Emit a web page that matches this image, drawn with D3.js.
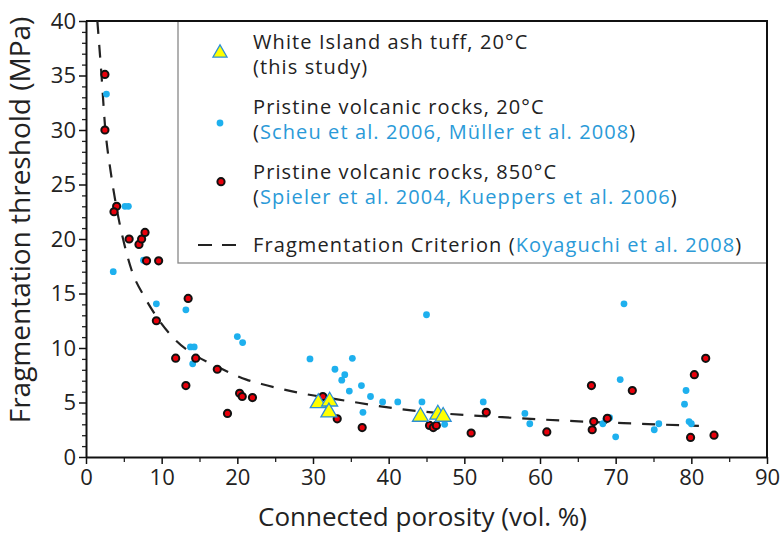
<!DOCTYPE html>
<html>
<head>
<meta charset="utf-8">
<script src="https://cdn.jsdelivr.net/npm/d3@7"></script>
<style>
  body { margin: 0; background: #fff; }
  svg text { font-family: "Open Sans", sans-serif; }
</style>
</head>
<body>
<div id="chart"></div>
<script>
// White Island ash tuff, 20°C (this study)
var tuff = [[30.7, 4.95], [32.2, 5.1], [32.1, 4.1], [44.2, 3.7], [46.5, 3.9], [47.2, 3.7]];

// Pristine volcanic rocks, 20°C
var cold = [
  [2.7, 33.3], [5.15, 23.0], [5.6, 23.0], [3.6, 17.0], [7.6, 18.05], [9.3, 14.05],
  [13.2, 13.5], [13.8, 10.1], [14.3, 10.1], [14.1, 8.55], [20.0, 11.05], [20.7, 10.5],
  [29.6, 9.0], [32.9, 8.05], [34.2, 7.55], [33.8, 7.05], [35.2, 9.05], [34.8, 6.05],
  [36.4, 6.55], [37.6, 5.55], [36.6, 4.1], [39.2, 5.05], [41.2, 5.05], [44.4, 5.05],
  [45.0, 13.05], [47.4, 3.0], [52.5, 5.05], [58.0, 4.0], [58.65, 3.05], [71.1, 14.05],
  [70.6, 7.1], [68.3, 3.05], [68.7, 3.45], [69.2, 3.6], [70.0, 1.85], [75.1, 2.5],
  [75.7, 3.05], [79.3, 6.1], [79.1, 4.85], [79.7, 3.25], [80.0, 3.05]
];

// Pristine volcanic rocks, 850°C
var hot = [
  [2.5, 35.1], [2.5, 30.0], [4.05, 23.0], [3.7, 22.5], [5.7, 20.0], [7.0, 19.5],
  [7.35, 20.0], [7.8, 20.6], [8.0, 18.0], [9.6, 18.0], [9.3, 12.5], [13.5, 14.55],
  [11.85, 9.07], [14.5, 9.07], [13.2, 6.55], [17.35, 8.05], [20.3, 5.85], [20.65, 5.55],
  [22.0, 5.45], [18.7, 4.0], [31.3, 5.55], [33.2, 3.5], [36.5, 2.7], [45.4, 2.9],
  [45.9, 2.7], [46.3, 2.9], [50.9, 2.2], [52.9, 4.1], [60.9, 2.3], [66.8, 6.55],
  [67.1, 3.25], [66.9, 2.5], [68.9, 3.55], [72.2, 6.1], [79.9, 1.8], [80.4, 7.55],
  [81.9, 9.05], [83.0, 2.0]
];

// Fragmentation criterion (Koyaguchi et al. 2008)
var criterion = [
  [1.5, 40], [2.05, 35], [2.5, 30.5], [3.3, 26], [4.0, 23], [4.9, 20], [6.0, 17.2],
  [7.8, 14.6], [9.3, 12.9], [11.8, 10.75], [14.5, 9.3], [17.3, 8.3], [21.2, 7.1],
  [23.2, 6.7], [27.4, 6.0], [34.9, 5.1], [41.5, 4.4], [48.1, 3.95], [55.0, 3.65],
  [65.7, 3.25], [73.2, 3.05], [81.0, 2.85]
];

var xTicks = [0, 10, 20, 30, 40, 50, 60, 70, 80, 90];
var yTicks = [0, 5, 10, 15, 20, 25, 30, 35, 40];

// each legend entry: lines of [text, isReference] pieces
var legendItems = [
  { kind: "tri", lines: [[["White Island ash tuff, 20°C", 0]], [["(this study)", 0]]] },
  { kind: "blue", lines: [[["Pristine volcanic rocks, 20°C", 0]], [["(", 0], ["Scheu et al. 2006, Müller et al. 2008", 1], [")", 0]]] },
  { kind: "red", lines: [[["Pristine volcanic rocks, 850°C", 0]], [["(", 0], ["Spieler et al. 2004, Kueppers et al. 2006", 1], [")", 0]]] },
  { kind: "dash", lines: [[["Fragmentation Criterion (", 0], ["Koyaguchi et al. 2008", 1], [")", 0]]] }
];

var W = 783, H = 533;
var margin = {top: 21, right: 16, bottom: 76, left: 86};
var width = W - margin.left - margin.right,
    height = H - margin.top - margin.bottom;

var svg = d3.select("#chart").append("svg")
  .attr("width", W)
  .attr("height", H);

var g = svg.append("g")
  .attr("transform", "translate(" + margin.left + "," + margin.top + ")");

var x = d3.scaleLinear().domain([0, 90]).range([0, width]);
var y = d3.scaleLinear().domain([0, 40]).range([height, 0]);

var textColor = "#222";
var linkColor = "#2a9ad8";

// legend box (sits in the top right corner of the frame)
var lg = g.append("g");
lg.append("rect")
  .attr("x", 92).attr("y", 0)
  .attr("width", width - 92).attr("height", 242)
  .attr("fill", "#fff")
  .attr("stroke", "#888")
  .attr("stroke-width", 1.3);

var rowY = [21, 86, 151, 224];
var lineStep = 25;
var markY = [32, 102, 160.7, 224];
legendItems.forEach(function(item, i) {
  item.lines.forEach(function(parts, j) {
    var t = lg.append("text")
      .attr("x", 167)
      .attr("y", rowY[i] + j * lineStep)
      .attr("dy", "0.36em")
      .style("font-size", "20px")
      .style("letter-spacing", "1.1px")
      .attr("fill", textColor);
    parts.forEach(function(p) {
      t.append("tspan").text(p[0]).attr("fill", p[1] ? linkColor : textColor);
    });
  });
  var mx = 134, my = markY[i];
  if (item.kind == "tri") {
    lg.append("path")
      .attr("transform", "translate(" + mx + "," + my + ")")
      .attr("d", d3.symbol().type(d3.symbolTriangle).size(85)())
      .attr("fill", "#ffff00").attr("stroke", "#2c8fd6").attr("stroke-width", 1.3);
  } else if (item.kind == "blue") {
    lg.append("circle").attr("cx", mx).attr("cy", my).attr("r", 3.4).attr("fill", "#1eb0ee");
  } else if (item.kind == "red") {
    lg.append("circle").attr("cx", mx + 1).attr("cy", my).attr("r", 3.6)
      .attr("fill", "#e8000b").attr("stroke", "#111").attr("stroke-width", 2);
  } else {
    lg.append("line").attr("x1", 112).attr("x2", 152).attr("y1", my).attr("y2", my)
      .attr("stroke", "#222").attr("stroke-width", 2.2).attr("stroke-dasharray", "14,10");
  }
});

// axes
var xMinor = d3.range(5, 90, 10);
var yMinor = d3.range(0, 41, 1).filter(function(v) { return v % 5 != 0; });

g.append("g")
  .attr("transform", "translate(0," + height + ")")
  .call(d3.axisBottom(x).tickValues(xMinor).tickSize(5).tickFormat(""))
  .call(function(a) { a.select(".domain").remove(); })
  .selectAll("line").attr("stroke", "#222").attr("stroke-width", 1.3);

g.append("g")
  .call(d3.axisLeft(y).tickValues(yMinor).tickSize(4).tickFormat(""))
  .call(function(a) { a.select(".domain").remove(); })
  .selectAll("line").attr("stroke", "#222").attr("stroke-width", 1.3);

var xAxis = g.append("g")
  .attr("transform", "translate(0," + height + ")")
  .call(d3.axisBottom(x).tickValues(xTicks).tickSize(7).tickPadding(5).tickSizeOuter(0));
xAxis.select(".domain").attr("stroke", "#111").attr("stroke-width", 2);
xAxis.selectAll(".tick line").attr("stroke", "#111").attr("stroke-width", 1.5);
xAxis.selectAll("text").style("font-size", "22px").attr("fill", textColor);

var yAxis = g.append("g")
  .call(d3.axisLeft(y).tickValues(yTicks).tickSize(7).tickPadding(3).tickSizeOuter(0));
yAxis.select(".domain").attr("stroke", "#111").attr("stroke-width", 2);
yAxis.selectAll(".tick line").attr("stroke", "#111").attr("stroke-width", 1.5);
yAxis.selectAll("text").style("font-size", "22px").attr("fill", textColor);

// top and right frame
g.append("path")
  .attr("d", "M0,0H" + width + "V" + height)
  .attr("fill", "none").attr("stroke", "#111").attr("stroke-width", 2);

// axis titles
g.append("text")
  .attr("x", width / 2 - 4).attr("y", height + 69)
  .attr("text-anchor", "middle")
  .style("font-size", "26px")
  .attr("fill", textColor)
  .text("Connected porosity (vol. %)");

g.append("text")
  .attr("transform", "translate(" + (-56) + "," + (height / 2 - 19) + ") rotate(-90)")
  .attr("text-anchor", "middle")
  .style("font-size", "28px")
  .attr("fill", textColor)
  .text("Fragmentation threshold (MPa)");

// data
var clip = svg.append("clipPath").attr("id", "clip")
  .append("rect").attr("width", width).attr("height", height);

g.append("path")
  .datum(criterion)
  .attr("clip-path", "url(#clip)")
  .attr("fill", "none")
  .attr("stroke", "#222")
  .attr("stroke-width", 2.2)
  .attr("stroke-dasharray", "13,11")
  .attr("d", d3.line()
    .x(function(d) { return x(d[0]); })
    .y(function(d) { return y(d[1]); })
    .curve(d3.curveMonotoneX));

g.selectAll(".cold").data(cold).enter().append("circle")
  .attr("class", "cold")
  .attr("cx", function(d) { return x(d[0]); })
  .attr("cy", function(d) { return y(d[1]); })
  .attr("r", 3.4)
  .attr("fill", "#1eb0ee");

g.selectAll(".hot").data(hot).enter().append("circle")
  .attr("class", "hot")
  .attr("cx", function(d) { return x(d[0]); })
  .attr("cy", function(d) { return y(d[1]); })
  .attr("r", 3.6)
  .attr("fill", "#e8000b")
  .attr("stroke", "#111")
  .attr("stroke-width", 2);

g.selectAll(".tuff").data(tuff).enter().append("path")
  .attr("class", "tuff")
  .attr("transform", function(d) { return "translate(" + x(d[0]) + "," + y(d[1]) + ")"; })
  .attr("d", d3.symbol().type(d3.symbolTriangle).size(110)())
  .attr("fill", "#ffff00")
  .attr("stroke", "#2c8fd6")
  .attr("stroke-width", 1.3);
</script>
</body>
</html>
